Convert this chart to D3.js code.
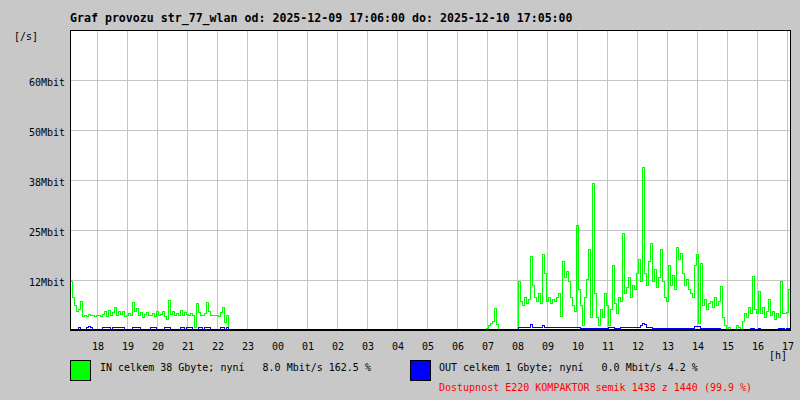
<!DOCTYPE html>
<html>
<head>
<meta charset="utf-8">
<script src="https://cdn.jsdelivr.net/npm/d3@7/dist/d3.min.js"></script>
<style>
  html, body { margin: 0; padding: 0; background: #c8c8c8; }
  svg { display: block; }
  text { font-family: "DejaVu Sans Mono", "Liberation Mono", monospace; white-space: pre; }
</style>
</head>
<body>
<svg id="chart" width="800" height="400"></svg>
<script>
// ---------------- data ----------------
const titleText = "Graf provozu str_77_wlan od: 2025-12-09 17:06:00 do: 2025-12-10 17:05:00";
const yUnit = "[/s]";
const xUnit = "[h]";
const startTime = new Date(2025, 11, 9, 17, 6);
const endTime = new Date(2025, 11, 10, 17, 6);
const stepMinutes = 4;
const yMax = 75;
const yTicks = [12.5, 25, 37.5, 50, 62.5];
const yTickLabels = ["12Mbit", "25Mbit", "38Mbit", "50Mbit", "60Mbit"];
const hourLabels = ["18","19","20","21","22","23","00","01","02","03","04","05",
                    "06","07","08","09","10","11","12","13","14","15","16","17"];

// IN traffic, Mbit/s, one value every 4 minutes from 17:06
const inSeries = [
  12, 8, 6, 4.5, 5, 7, 3.2, 3.5, 3.3, 3.8,
  3.5, 3.4, 3.2, 3.6, 3.5, 3.3, 3.7, 4.5, 3.2, 4.8,
  3.5, 4.2, 5.5, 3.4, 4.6, 3.8, 4.4, 3.2, 3.6, 4.0,
  3.5, 6.7, 4.5, 5.2, 3.5, 4.2, 3.0, 3.8, 4.2, 3.4,
  3.6, 4.0, 3.3, 4.5, 3.5, 3.8, 4.4, 3.2, 2.5, 7.2,
  3.8, 4.6, 3.5, 4.0, 3.4, 4.8, 3.6, 4.2, 3.8, 3.5,
  4.0, 3.6, 0.5, 6.5, 4.2, 3.5, 3.6, 4.0, 6.7, 4.5,
  3.5, 3.6, 3.4, 3.5, 3.3, 4.2, 5.5, 1.7, 3.5, 0,
  0,0,0,0,0,0,0,0,0,0,0,0,0,0,0,0,
  0,0,0,0,0,0,0,0,0,0,0,0,0,0,0,0,
  0,0,0,0,0,0,0,0,0,0,0,0,0,0,0,0,
  0,0,0,0,0,0,0,0,0,0,0,0,0,0,0,0,
  0,0,0,0,0,0,0,0,0,0,0,0,0,0,0,0,
  0,0,0,0,0,0,0,0,0,0,0,0,0,0,0,0,
  0,0,0,0,0,0,0,0,0,0,0,0,0,0,0,0,
  0,0,0,0,0,0,0,0,0,0,0,0,0,0,0,0,
  0.3, 1, 1.5, 2, 5.2, 1.2, 0,
  0,0,0,0,0,0,0,0,0,
  12, 7, 6, 8, 6.5, 7.5, 18.2, 11, 8, 7,
  9, 6.5, 18.7, 14, 7, 8, 6.5, 7.5, 7, 8,
  9, 3.3, 17, 13, 14.5, 12, 8, 6, 4.5, 26,
  10, 6, 1, 8, 12.5, 20, 3, 36.5, 9, 3,
  1, 5, 3, 9, 6, 1, 5, 16, 6.5, 4,
  8, 7, 24, 9, 10.5, 13, 8, 11, 10, 14,
  17.5, 12, 40.5, 14, 11, 17, 21.5, 12, 15, 10.5,
  13, 20, 12, 8, 7, 16, 11, 13.5, 10, 20.5,
  17.5, 19, 14, 11, 12.5, 10, 9, 8, 16, 18.7,
  1.5, 16.5, 6, 7.5, 5, 6.5, 7, 5.5, 8, 6,
  7, 10.8, 3, 1, 0, 0.5, 0, 0, 0, 1,
  0.5, 0, 2, 4, 3, 5.5, 4, 13.3, 5, 4,
  9.5, 4, 5.5, 3, 4.5, 7.5, 3.5, 4.5, 2.5, 4,
  3, 12, 4, 4, 4.2, 10, 8
];

// OUT traffic, Mbit/s, same sampling
const outSeries = [
  0,0,0,0,0.4,0,0,0,0.4,0.7,
  0.4,0,0,0,0,0,0.4,0.4,0.4,0.4,
  0,0.4,0.4,0.4,0.4,0.4,0.4,0,0,0,
  0,0.4,0.4,0.4,0.4,0,0,0,0,0,
  0.4,0.4,0.4,0,0,0,0,0.4,0.4,0.4,
  0,0,0,0,0,0.4,0.4,0,0.4,0.4,
  0.4,0,0,0,0.5,0.5,0,0.4,0.4,0.4,
  0,0,0,0,0,0.4,0.4,0,0.4,0,
  0,0,0,0,0,0,0,0,0,0,0,0,0,0,0,0,
  0,0,0,0,0,0,0,0,0,0,0,0,0,0,0,0,
  0,0,0,0,0,0,0,0,0,0,0,0,0,0,0,0,
  0,0,0,0,0,0,0,0,0,0,0,0,0,0,0,0,
  0,0,0,0,0,0,0,0,0,0,0,0,0,0,0,0,
  0,0,0,0,0,0,0,0,0,0,0,0,0,0,0,0,
  0,0,0,0,0,0,0,0,0,0,0,0,0,0,0,0,
  0,0,0,0,0,0,0,0,0,0,0,0,0,0,0,0,
  0,0,0,0,0,0,0,0,0,0,0,0,0,0,0,0,
  0.4,0.4,0.4,0.4,0.4,0.4,1.2,0.6,0.6,0.4,
  0.6,0.6,0.9,0.5,0.5,0.5,0.5,0.4,0.4,0.4,
  0.4,0.4,0.4,0.4,0.4,0.4,0.4,0.4,0.4,0.4,
  0.4,0.15,0.15,0.15,0.15,0.15,0.15,0.15,0.15,0.15,
  0.15,0.15,0.15,0.15,0.15,0.4,0.4,0.4,0.2,0.2,
  0.2,0.4,0.4,0.4,0.4,0.4,0.4,0.4,0.4,0.4,
  0.4,1.0,1.5,1.2,0.6,0.6,0.6,0.3,0.3,0.3,
  0.3,0.3,0.3,0.3,0.3,0.3,0.3,0.3,0.3,0.3,
  0.3,0.3,0.3,0.3,0.3,0.3,0.3,0.3,0.7,0.7,
  0.7,0.3,0.3,0.3,0.3,0.3,0.3,0.3,0.3,0.3,
  0.3,0,0,0,0,0,0,0,0,0,
  0,0,0,0,0,0,0.3,0.3,0,0,
  0.3,0,0,0,0,0,0,0,0,0,
  0.3,0.3,0.3,0,0.3,0.3,0
];

const legendIn = "IN celkem 38 Gbyte; nyní   8.0 Mbit/s 162.5 %";
const legendOut = "OUT celkem 1 Gbyte; nyní   0.0 Mbit/s 4.2 %";
const legendAvail = "Dostupnost E220 KOMPAKTOR semik 1438 z 1440 (99.9 %)";

// ---------------- drawing ----------------
const svg = d3.select("#chart");
const L = 70, R = 790, T = 30, B = 330;

svg.append("rect").attr("x", 0).attr("y", 0).attr("width", 800).attr("height", 400).attr("fill", "#c8c8c8");
svg.append("rect").attr("x", L).attr("y", T).attr("width", R - L).attr("height", B - T).attr("fill", "#ffffff");

const x = d3.scaleTime().domain([startTime, endTime]).range([L, R]);
const y = d3.scaleLinear().domain([0, yMax]).range([B, T]);

const hours = d3.timeHour.range(d3.timeHour.ceil(startTime), endTime);

// grid
const grid = svg.append("g").attr("shape-rendering", "crispEdges").attr("stroke", "#c4c4c4").attr("stroke-width", 1);
grid.selectAll("line.v").data(hours).join("line").attr("class", "v")
  .attr("x1", d => Math.round(x(d)) + 0.5).attr("x2", d => Math.round(x(d)) + 0.5)
  .attr("y1", T).attr("y2", B);
grid.selectAll("line.h").data(yTicks).join("line").attr("class", "h")
  .attr("x1", L).attr("x2", R)
  .attr("y1", d => Math.round(y(d)) + 0.5).attr("y2", d => Math.round(y(d)) + 0.5);

// series
const toPoints = arr => arr.map((v, i) => ({ t: d3.timeMinute.offset(startTime, i * stepMinutes), v }));
const line = d3.line().x(d => x(d.t) + 0.5).y(d => Math.round(y(d.v)) - 0.5).curve(d3.curveStepAfter);

svg.append("path").datum(toPoints(inSeries)).attr("d", line)
  .attr("fill", "none").attr("stroke", "#00ff00").attr("stroke-width", 1).attr("shape-rendering", "crispEdges");
svg.append("path").datum(toPoints(outSeries)).attr("d", line)
  .attr("fill", "none").attr("stroke", "#0000ff").attr("stroke-width", 1).attr("shape-rendering", "crispEdges");

// frame
const frame = svg.append("g").attr("shape-rendering", "crispEdges").attr("stroke", "#000").attr("fill", "none");
frame.append("rect").attr("x", L + 0.5).attr("y", T + 0.5).attr("width", R - L).attr("height", B - T - 1);
frame.append("line").attr("x1", L).attr("x2", R + 1).attr("y1", B + 0.5).attr("y2", B + 0.5);

// y labels
svg.append("g").selectAll("text").data(yTicks).join("text")
  .attr("x", 65).attr("y", d => Math.round(y(d)) + 6)
  .attr("text-anchor", "end").attr("font-size", "10px").attr("fill", "#000")
  .text((d, i) => yTickLabels[i]);

// x labels via axis
const xAxis = d3.axisBottom(x).tickValues(hours).tickSize(0).tickPadding(0)
  .tickFormat((d, i) => hourLabels[i]);
const gx = svg.append("g").attr("transform", `translate(0.5,${B + 20})`).call(xAxis);
gx.select(".domain").remove();
gx.selectAll("text").attr("font-size", "10px").attr("font-family", "DejaVu Sans Mono").attr("fill", "#000").attr("dy", 0);

// units
svg.append("text").attr("x", 14).attr("y", 40).attr("font-size", "10px").text(yUnit);
svg.append("text").attr("x", 769).attr("y", 359).attr("font-size", "10px").text(xUnit);

// title
svg.append("text").attr("x", 70).attr("y", 22).attr("font-size", "11.6px").attr("font-weight", "bold").text(titleText);

// legend
svg.append("rect").attr("x", 70.5).attr("y", 360.5).attr("width", 20).attr("height", 20)
  .attr("fill", "#00ff00").attr("stroke", "#000").attr("shape-rendering", "crispEdges");
svg.append("text").attr("x", 100).attr("y", 371).attr("font-size", "10px").text(legendIn);
svg.append("rect").attr("x", 410.5).attr("y", 360.5).attr("width", 20).attr("height", 20)
  .attr("fill", "#0000ff").attr("stroke", "#000").attr("shape-rendering", "crispEdges");
svg.append("text").attr("x", 439).attr("y", 371).attr("font-size", "10px").text(legendOut);
svg.append("text").attr("x", 439).attr("y", 391).attr("font-size", "10px").attr("fill", "#ff0000").text(legendAvail);
</script>
</body>
</html>
